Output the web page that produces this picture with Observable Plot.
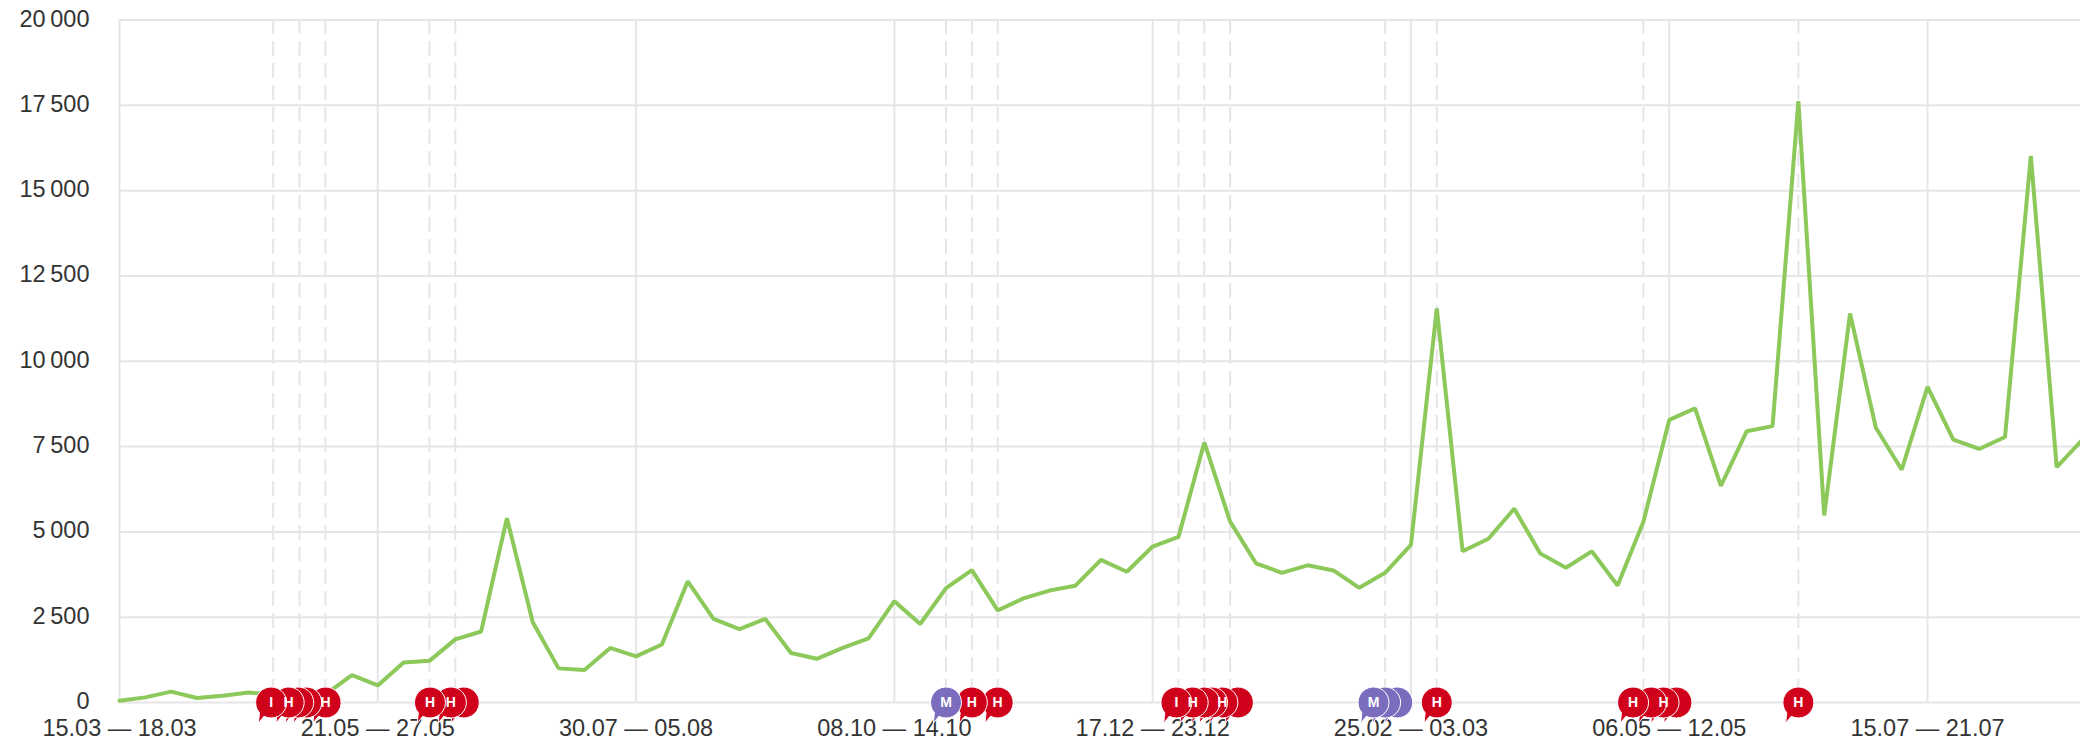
<!DOCTYPE html>
<html>
<head>
<meta charset="utf-8">
<style>html,body{margin:0;padding:0;background:#fff}svg{display:block}</style>
<script src="https://cdn.jsdelivr.net/npm/d3@7"></script>
<script src="https://cdn.jsdelivr.net/npm/@observablehq/plot@0.6"></script>
</head>
<body>
<div id="chart"></div>
<script>
const values = [50,150,320,130,200,290,230,200,250,800,500,1170,1220,1850,2080,5400,2350,1000,950,1600,1350,1700,3550,2450,2150,2450,1450,1280,1600,1880,2970,2300,3350,3880,2700,3050,3280,3420,4180,3830,4570,4850,7620,5300,4080,3800,4020,3870,3360,3800,4620,11550,4430,4800,5680,4370,3950,4430,3430,5300,8280,8620,6350,7950,8100,17620,5480,11400,8050,6820,9250,7700,7430,7780,16020,6900,7700];
const xTicks = [0,10,20,30,40,50,60,70];
const xLabels = ["15.03 — 18.03","21.05 — 27.05","30.07 — 05.08","08.10 — 14.10","17.12 — 23.12","25.02 — 03.03","06.05 — 12.05","15.07 — 21.07"];
const yTicks = [0,2500,5000,7500,10000,12500,15000,17500,20000];
const eventWeeks = [5.95,6.97,7.97,12,13,32,33,34,41,42,43,49,51,59,65];
const markerX = [5.87,6.55,6.92,7.23,7.98,12.02,12.83,13.33,32,33,34,40.92,41.55,42,42.3,42.7,43.3,48.55,49,49.47,51,58.6,59.3,59.78,60.28,65];
const markerLabel = ["I","H","","","H","H","H","","M","H","H","I","H","","","H","","M","","","H","H","","H","","H"];
const markerKind = ["r","r","r","r","r","r","r","r","m","r","r","r","r","r","r","r","r","m","m","m","r","r","r","r","r","r"];

const markers = markerX.map((x,i)=>({x,y:0,label:markerLabel[i],color:markerKind[i]==="m"?"#7b6cbe":"#d0021b"})).reverse();
const series = values.map((v,i)=>({i,v}));
const bubble = {draw(ctx,size){
  const r = Math.sqrt(size/Math.PI);
  const a0 = 2.05, a1 = 2.42;
  ctx.moveTo(r*Math.cos(a0), r*Math.sin(a0));
  ctx.arc(0,0,r,a0,a1,true);
  ctx.lineTo(-r*0.82,r*1.34);
  ctx.closePath();
}};
const plot = Plot.plot({
  width:2080,height:743,
  marginLeft:119,marginRight:0,marginTop:19,marginBottom:41,
  style:{fontFamily:"'Liberation Sans',Arial,sans-serif",background:"#fff"},
  x:{domain:[0,76],range:[119,2082]},
  y:{domain:[0,20000],range:[702,19.5]},
  marks:[
    Plot.ruleY(yTicks,{stroke:"#e6e6e6",strokeWidth:2}),
    Plot.ruleX(xTicks,{stroke:"#e6e6e6",strokeWidth:2}),
    Plot.ruleX(eventWeeks,{stroke:"#e6e6e6",strokeWidth:2,strokeDasharray:"15 7"}),
    Plot.axisY({ticks:yTicks,tickSize:0,tickPadding:30,dy:-1,label:null,fontSize:23.5,fill:"#333",tickFormat:d=>d3.format(",")(d).replace(",","\u2009")}),
    Plot.axisX({ticks:xTicks,tickSize:0,tickPadding:17,label:null,fontSize:23.5,fill:"#333",tickFormat:d=>xLabels[xTicks.indexOf(d)]}),
    Plot.line(series,{x:"i",y:"v",stroke:"#8cc95a",strokeWidth:4,strokeLinejoin:"miter"}),
    Plot.dot(markers,{x:"x",y:"y",r:15.5,symbol:bubble,fill:"color",stroke:"#fff",strokeWidth:1}),
    Plot.text(markers,{x:"x",y:"y",text:"label",fill:"#fff",fontWeight:"bold",fontSize:14})
  ]
});
document.getElementById("chart").append(plot);
</script>
</body>
</html>
